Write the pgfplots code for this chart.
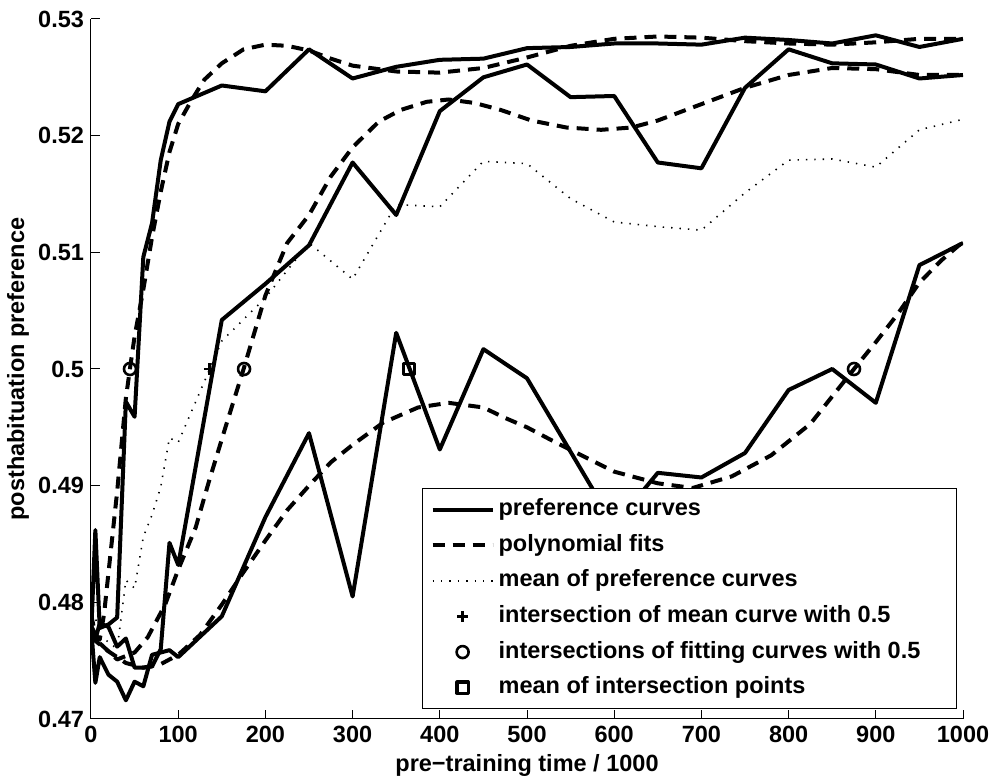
\documentclass[border=0pt]{standalone}
\usepackage{fontspec}
\setmainfont{Liberation Sans}
\usepackage{pgfplots}
\pgfplotsset{compat=1.18}
\newcommand{\lblfont}{\fontsize{11.75}{14}\selectfont\bfseries}
\begin{document}
\begin{tikzpicture}
\path[use as bounding box] (-45.5pt,-30pt) rectangle (450pt,359.5pt);
\begin{axis}[
  scale only axis, width=436pt, height=350pt,
  xmin=0, xmax=1000, ymin=0.47, ymax=0.53,
  axis x line*=bottom, axis y line*=left,
  axis line style={line width=0.5pt},
  tick align=inside, major tick length=4.4pt,
  tick style={line width=0.5pt, black},
  xtick={0,100,200,300,400,500,600,700,800,900,1000},
  xticklabels={0,100,200,300,400,500,600,700,800,900,1000},
  ytick={0.47,0.48,0.49,0.5,0.51,0.52,0.53},
  yticklabels={0.47,0.48,0.49,0.5,0.51,0.52,0.53},
  ticklabel style={font=\lblfont},
  xlabel={pre−training time / 1000},
  ylabel={posthabituation preference},
  label style={font=\lblfont},
  xlabel style={at={(axis description cs:0.5,-0.0671)}, anchor=center},
  ylabel style={at={(axis description cs:-0.0837,0.5)}, anchor=center},
  legend style={at={(rel axis cs:0.993,0.0143)}, anchor=south east,
    draw=black, line width=0.5pt, font=\lblfont, fill=white,
    inner xsep=4pt, inner ysep=3pt, row sep=3pt,
    nodes={inner sep=2pt, text height=8.4pt, text depth=2.4pt}},
  legend cell align=left,
  legend image code/.code={\draw[mark repeat=2,mark phase=2,#1] plot coordinates {(0pt,0pt)(15pt,0pt)(30pt,0pt)};},
  every axis plot/.append style={line join=round},
]
% preference curves
\addplot[black, line width=2pt] coordinates {(0,0.4770)(5,0.4862)(10,0.4778)(20,0.4781)(30,0.4787)(40,0.4972)(50,0.4959)(60,0.5096)(70,0.5125)(80,0.5179)(90,0.5212)(100,0.5227)(150,0.5243)(200,0.5238)(250,0.5274)(300,0.5249)(350,0.5259)(400,0.5265)(450,0.5266)(500,0.5275)(550,0.5276)(600,0.5279)(650,0.5279)(700,0.5278)(750,0.5284)(800,0.5282)(850,0.5279)(900,0.5286)(950,0.5276)(1000,0.5283)};
\addlegendentry{preference curves}
\addplot[black, line width=2pt, forget plot] coordinates {(0,0.4775)(5,0.4768)(10,0.4782)(20,0.4779)(30,0.4762)(40,0.4769)(50,0.4744)(60,0.4744)(70,0.4745)(80,0.4760)(90,0.4851)(100,0.4832)(150,0.5042)(200,0.5073)(250,0.5106)(300,0.5177)(350,0.5132)(400,0.5221)(450,0.5250)(500,0.5261)(550,0.5233)(600,0.5234)(650,0.5177)(700,0.5172)(750,0.5241)(800,0.5274)(850,0.5262)(900,0.5261)(950,0.5249)(1000,0.5252)};
\addplot[black, line width=2pt, forget plot] coordinates {(0,0.4780)(5,0.4731)(10,0.4753)(20,0.4738)(30,0.4732)(40,0.4716)(50,0.4732)(60,0.4728)(70,0.4755)(80,0.4757)(90,0.4759)(100,0.4753)(150,0.4788)(200,0.4873)(250,0.4945)(300,0.4805)(350,0.5031)(400,0.4931)(450,0.5017)(500,0.4992)(550,0.4929)(600,0.4866)(650,0.4911)(700,0.4907)(750,0.4928)(800,0.4982)(850,0.5000)(900,0.4971)(950,0.5089)(1000,0.5108)};
% polynomial fits
\addplot[black, line width=2pt, dash pattern=on 6pt off 4pt] coordinates {(0,0.4790)(5,0.4772)(10,0.4768)(15,0.4790)(20,0.4825)(25,0.4860)(30,0.4895)(35,0.4935)(40,0.4975)(45,0.5002)(50,0.5028)(60,0.5068)(70,0.5113)(80,0.5152)(90,0.5186)(100,0.5210)(115,0.5230)(130,0.5248)(150,0.5262)(175,0.5274)(200,0.5278)(225,0.5277)(250,0.5273)(275,0.5266)(300,0.5260)(350,0.5255)(400,0.5254)(450,0.5258)(500,0.5267)(550,0.5277)(600,0.5283)(650,0.5285)(700,0.5284)(750,0.5281)(800,0.5279)(850,0.5278)(900,0.5280)(950,0.5283)(1000,0.5283)};
\addlegendentry{polynomial fits}
\addplot[black, line width=2pt, dash pattern=on 6pt off 4pt, forget plot] coordinates {(0,0.4780)(10,0.4765)(30,0.4751)(50,0.4757)(65,0.4770)(85,0.4798)(100,0.4828)(120,0.4864)(135,0.4903)(155,0.4952)(175,0.5000)(200,0.5063)(225,0.5108)(250,0.5132)(275,0.5165)(300,0.5190)(330,0.5212)(355,0.5222)(385,0.5229)(410,0.5231)(440,0.5228)(470,0.5222)(505,0.5213)(545,0.5207)(585,0.5205)(620,0.5207)(650,0.5213)(700,0.5227)(750,0.5241)(800,0.5252)(850,0.5258)(900,0.5257)(950,0.5252)(1000,0.5252)};
\addplot[black, line width=2pt, dash pattern=on 6pt off 4pt, forget plot] coordinates {(0,0.4770)(20,0.4758)(40,0.4748)(60,0.4744)(80,0.4747)(100,0.4755)(125,0.4772)(150,0.4798)(175,0.4826)(200,0.4853)(225,0.4879)(250,0.4900)(275,0.4920)(300,0.4935)(335,0.4954)(375,0.4967)(410,0.4971)(450,0.4967)(475,0.4958)(500,0.4950)(533,0.4937)(600,0.4912)(650,0.4902)(690,0.4898)(735,0.4908)(780,0.4926)(825,0.4953)(875,0.5000)(900,0.5023)(925,0.5047)(950,0.5074)(975,0.5093)(1000,0.5109)};
% mean of preference curves
\addplot[black, line width=0.8pt, dash pattern=on 0.7pt off 3.5pt] coordinates {(0,0.4775)(5,0.4787)(10,0.4771)(20,0.4766)(30,0.4760)(40,0.4819)(50,0.4812)(60,0.4856)(70,0.4875)(80,0.4899)(90,0.4941)(100,0.4937)(150,0.5024)(200,0.5061)(250,0.5108)(300,0.5077)(350,0.5141)(400,0.5139)(450,0.5178)(500,0.5176)(550,0.5146)(600,0.5126)(650,0.5122)(700,0.5119)(750,0.5151)(800,0.5179)(850,0.5180)(900,0.5173)(950,0.5205)(1000,0.5214)};
\addlegendentry{mean of preference curves}
\addplot[black, only marks, mark=+, mark size=2.8pt, line width=1.2pt] coordinates {(136,0.5)};
\addlegendentry{intersection of mean curve with 0.5}
\addplot[black, only marks, mark=o, mark size=3pt, line width=1.3pt] coordinates {(44.7,0.5)(175.5,0.5)(875,0.5)};
\addlegendentry{intersections of fitting curves with 0.5\hspace*{12pt}}
\addplot[black, only marks, mark=square, mark size=2.8pt, line width=1.6pt] coordinates {(365,0.5)};
\addlegendentry{mean of intersection points}
\end{axis}
\end{tikzpicture}
\end{document}
